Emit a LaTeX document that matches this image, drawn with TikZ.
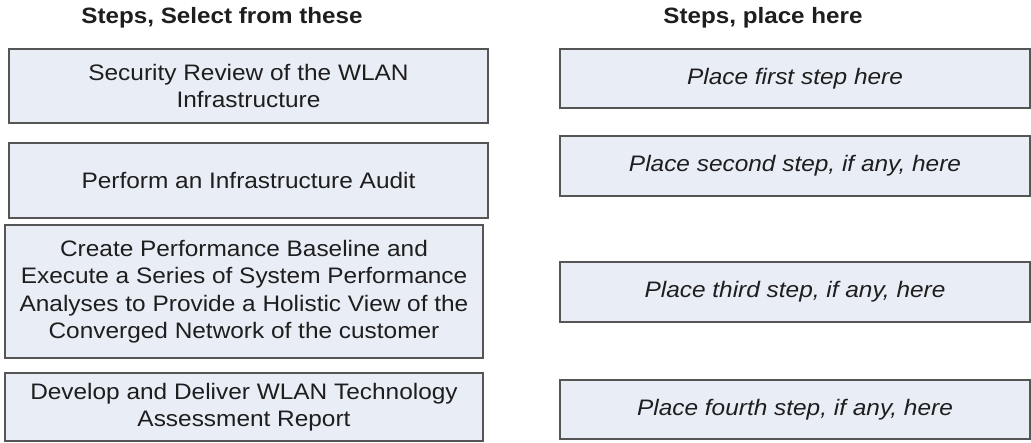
\documentclass[tikz,border=0pt]{standalone}
\usepackage{fontspec}
\setmainfont{Liberation Sans}[FakeStretch=1.09]
\definecolor{boxfill}{RGB}{233,237,246}
\definecolor{boxline}{RGB}{85,85,85}
\definecolor{txt}{RGB}{30,30,30}
\begin{document}
\begin{tikzpicture}[x=1pt,y=-1pt,
  stepbox/.style={draw=boxline,fill=boxfill,line width=1.6pt,inner sep=0pt,
    align=center,text=txt,font=\fontsize{22.4}{27.5}\selectfont},
  slotbox/.style={stepbox,font=\fontsize{22.4}{27.5}\selectfont\itshape},
  header/.style={text=txt,font=\fontsize{22.2}{27}\selectfont\bfseries,inner sep=0pt}]
\useasboundingbox[fill=white] (0,0) rectangle (1031,442);
\node[header] (hl) at (222,18) {Steps, Select\ from these};
\node[header] (hr) at (763,18) {Steps, place here};
\node[stepbox,minimum width=479,minimum height=74] (l1) at (248.5,86)
  {Security Review of the WLAN\\Infrastructure};
\node[stepbox,minimum width=479,minimum height=75] (l2) at (248.5,180.5)
  {Perform an Infrastructure Audit};
\node[stepbox,minimum width=478,minimum height=133] (l3) at (244,291.5)
  {Create Performance Baseline and\\Execute a Series of System Performance\\Analyses to Provide a Holistic View of the\\Converged Network of the customer};
\node[stepbox,minimum width=478,minimum height=68] (l4) at (244,407)
  {Develop and Deliver WLAN Technology\\Assessment Report};
\node[slotbox,minimum width=470,minimum height=59] (r1) at (795,78.5)
  {Place first step here};
\node[slotbox,minimum width=470,minimum height=60] (r2) at (795,166)
  {Place second step, if any, here};
\node[slotbox,minimum width=470,minimum height=60] (r3) at (795,292)
  {Place third step, if any, here};
\node[slotbox,minimum width=470,minimum height=59] (r4) at (795,409.5)
  {Place fourth step, if any, here};
\end{tikzpicture}
\end{document}
